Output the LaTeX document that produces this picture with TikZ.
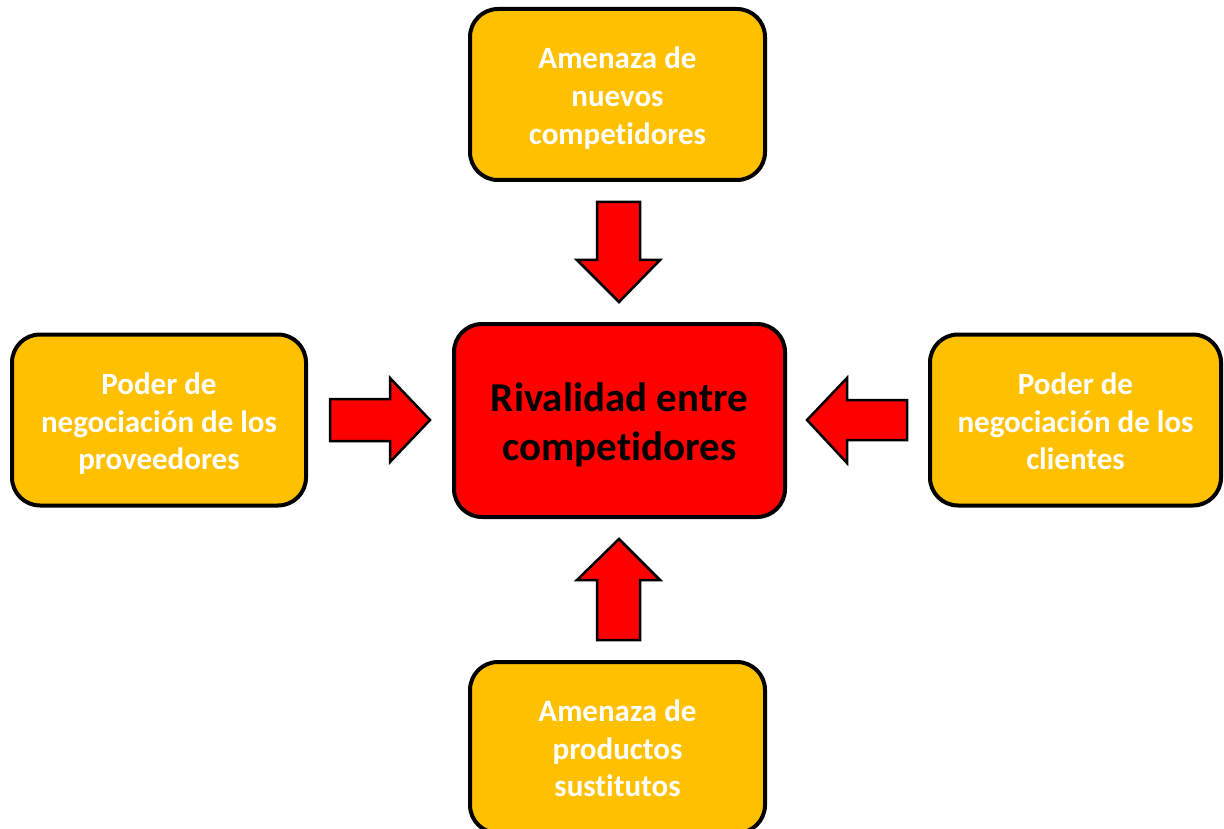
\documentclass[tikz,border=0pt]{standalone}
\usepackage{fontspec}
\setmainfont[Ligatures={NoCommon}]{Carlito}
\definecolor{boxyellow}{HTML}{FFC000}
\definecolor{boxred}{HTML}{FF0000}
\newcommand{\lowered}[2]{\raisebox{-#1}[\height][\depth]{\begin{tabular}{@{}c@{}}#2\end{tabular}}}
\begin{document}
\begin{tikzpicture}[x=1pt,y=-1pt,
  force/.style={draw=black, line width=4pt, fill=boxyellow, rounded corners=28pt,
    minimum width=295pt, minimum height=171pt, align=center, text=white,
    font=\fontsize{31}{37.6}\selectfont\bfseries, inner sep=0pt},
  core/.style={draw=black, line width=4pt, fill=boxred, rounded corners=28pt,
    minimum width=331pt, minimum height=193pt, align=center, text=black,
    font=\fontsize{41}{49}\selectfont\bfseries, inner sep=0pt},
  blockarrow/.style={draw=black, line width=2.5pt, fill=boxred, line join=miter}]
\useasboundingbox (0,0) rectangle (1224,829);
\node[core] (center) at (619.5,420.5) {\lowered{5.5pt}{Rivalidad entre\\competidores}};
\node[force] (top) at (617.5,94.5) {\lowered{4.5pt}{Amenaza de\\nuevos\\competidores}};
\node[force, minimum width=294pt] (left) at (159,420) {\lowered{4.5pt}{Poder de\\negociación de los\\proveedores}};
\node[force, minimum width=291pt] (right) at (1075.5,420) {\lowered{4.5pt}{Poder de\\negociación de los\\clientes}};
\node[force] (bottom) at (617.5,747.5) {\lowered{4pt}{Amenaza de\\productos\\sustitutos}};
% block arrows
\draw[blockarrow] (597,202) -- (640,202) -- (640,260) -- (660,260) -- (619,302) -- (577,260) -- (597,260) -- cycle;
\draw[blockarrow] (330,399) -- (390,399) -- (390,378) -- (430,420) -- (390,462) -- (390,441) -- (330,441) -- cycle;
\draw[blockarrow] (907,400) -- (847,400) -- (847,378) -- (807,420) -- (847,463) -- (847,440) -- (907,440) -- cycle;
\draw[blockarrow] (597,640) -- (597,580) -- (577,580) -- (619,539) -- (660,580) -- (640,580) -- (640,640) -- cycle;
\end{tikzpicture}
\end{document}
